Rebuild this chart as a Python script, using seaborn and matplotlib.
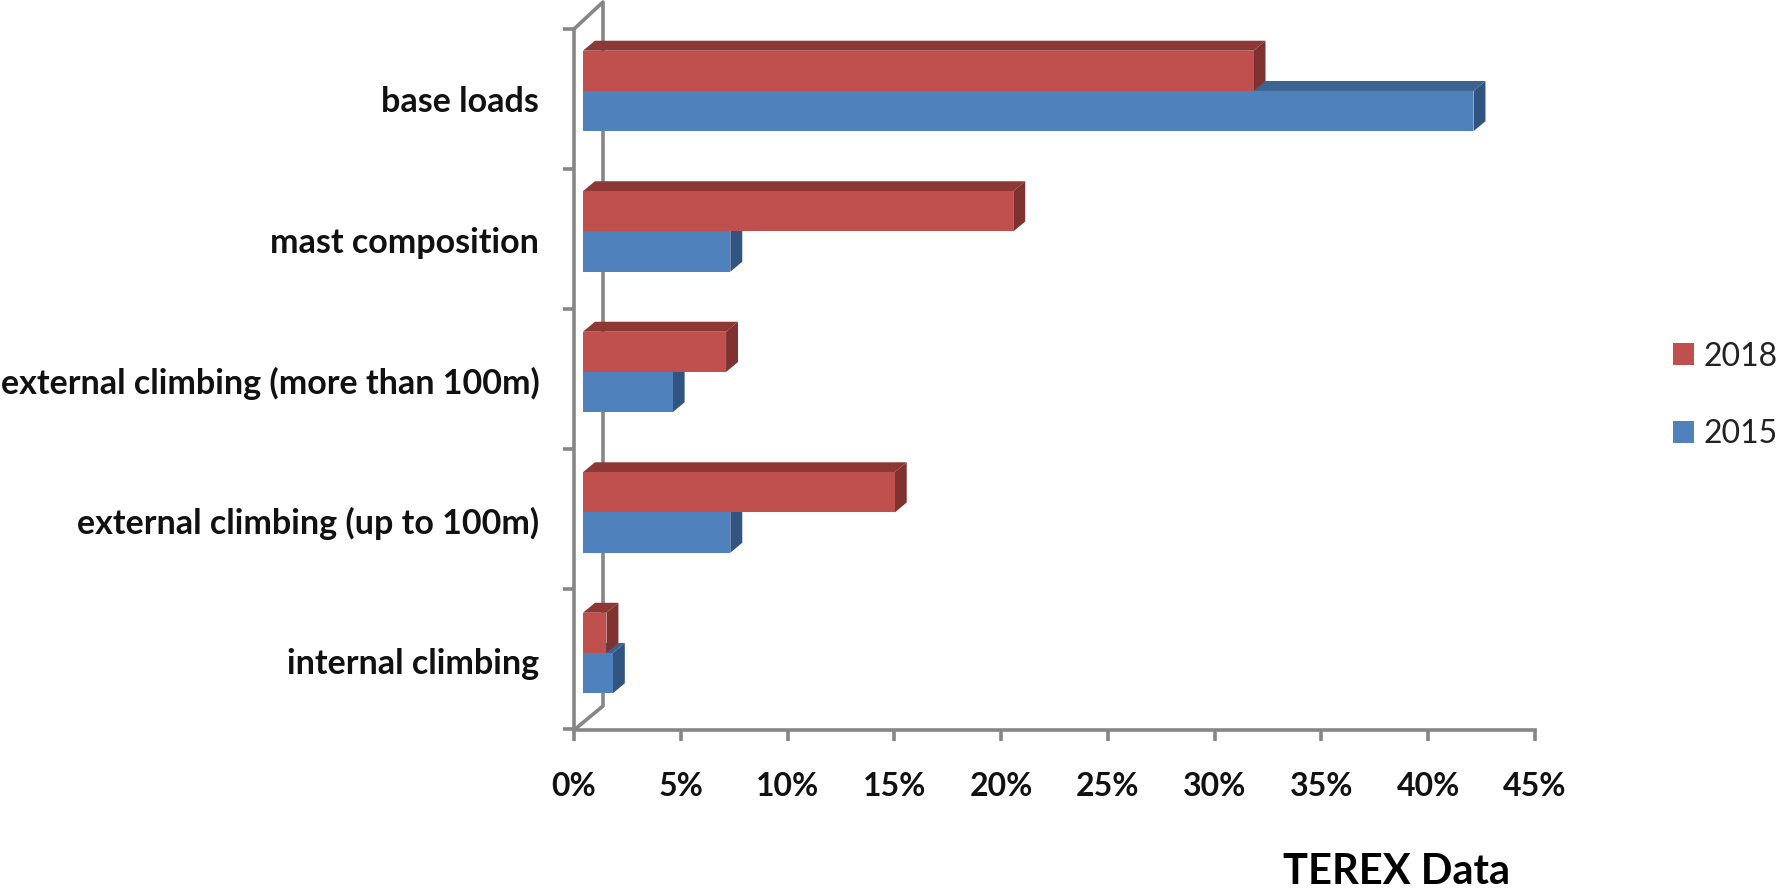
import pandas as pd
import seaborn as sns
import matplotlib.pyplot as plt
from matplotlib.patches import Polygon

# Data (percent)
categories = ["base loads", "mast composition", "external climbing (more than 100m)",
              "external climbing (up to 100m)", "internal climbing"]
values_2018 = [31.4, 20.15, 6.7, 14.6, 1.1]
values_2015 = [41.7, 6.9, 4.2, 6.9, 1.4]
x_ticks = [0, 5, 10, 15, 20, 25, 30, 35, 40, 45]
x_tick_labels = ["0%", "5%", "10%", "15%", "20%", "25%", "30%", "35%", "40%", "45%"]

df = pd.DataFrame({
    "category": categories * 2,
    "year": ["2018"] * 5 + ["2015"] * 5,
    "share": values_2018 + values_2015,
})

sns.set_theme(style="white")
plt.rcParams["font.family"] = ["Lato", "DejaVu Sans"]

W, H = 1780, 894
GREY = "#868686"
fig = plt.figure(figsize=(W / 100, H / 100), dpi=100)
ax = fig.add_axes([574 / W, 1 - 730 / H, (1535 - 574) / W, (730 - 29) / H])

sns.barplot(data=df, y="category", x="share", hue="year", hue_order=["2018", "2015"],
            palette={"2018": "#c0504d", "2015": "#4f81bd"}, saturation=1, width=0.573,
            order=categories, linewidth=0, zorder=5, ax=ax)

ax.set_xlim(0, 45)
ax.set_ylim(4.548, -0.441)
ax.set_xlabel("")
ax.set_ylabel("")

# 3D look: bars start off the axis, top and side faces from each bar
x_shift = 0.42
dx, dy = 0.56, 0.071
shades = [("#8e3835", "#7f322f", 3, 3), ("#3d6491", "#325480", 2, 4)]
for container, (top_col, side_col, top_z, side_z) in zip(ax.containers, shades):
    for bar in container:
        bar.set_x(bar.get_x() + x_shift)
        x0, y0 = bar.get_x(), bar.get_y()
        x1, y1 = x0 + bar.get_width(), y0 + bar.get_height()
        ax.add_patch(Polygon([(x0, y0), (x1, y0), (x1 + dx, y0 - dy), (x0 + dx, y0 - dy)],
                             facecolor=top_col, linewidth=0, zorder=top_z))
        ax.add_patch(Polygon([(x1, y0), (x1, y1), (x1 + dx, y1 - dy), (x1 + dx, y0 - dy)],
                             facecolor=side_col, linewidth=0, zorder=side_z))

# Back wall lines
wall_x = 29 / 961
ax.plot([0, wall_x, wall_x, 0], [0, 24 / 701, 728 / 701, 1], color=GREY, lw=2.6,
        transform=ax.transAxes, clip_on=False, zorder=1)

sns.despine(ax=ax)
for side in ["left", "bottom"]:
    ax.spines[side].set_color(GREY)
    ax.spines[side].set_linewidth(2.6)

# y ticks sit between the categories, labels on minor ticks
ax.set_yticks([-0.441 + i * 0.996 for i in range(6)], labels=[])
ax.set_yticks([i + 0.058 for i in range(5)], labels=categories, minor=True)
ax.tick_params(axis="y", which="major", length=8, width=2.6, color=GREY, left=True)
ax.tick_params(axis="y", which="minor", length=0, pad=25, labelsize=24.5, labelcolor="#111111")
for lab in ax.get_yticklabels(minor=True):
    lab.set_fontweight("bold")

ax.set_xticks(x_ticks, labels=x_tick_labels)
ax.tick_params(axis="x", length=8, width=2.6, color=GREY, bottom=True, pad=22,
               labelsize=23, labelcolor="#111111")
for lab in ax.get_xticklabels():
    lab.set_fontweight("bold")

sns.move_legend(ax, "center left", bbox_to_anchor=(1644 / W, 1 - 395.5 / H),
                bbox_transform=fig.transFigure, frameon=False, title=None, fontsize=23,
                handlelength=0.67, handleheight=0.67, handletextpad=0.29, labelspacing=1.5,
                labelcolor="#222222")

fig.text(1283 / W, 1 - 872 / H, "TEREX Data", fontsize=30, fontweight="bold",
         color="black", va="center", ha="left")

fig.savefig("out.png", dpi=100)
